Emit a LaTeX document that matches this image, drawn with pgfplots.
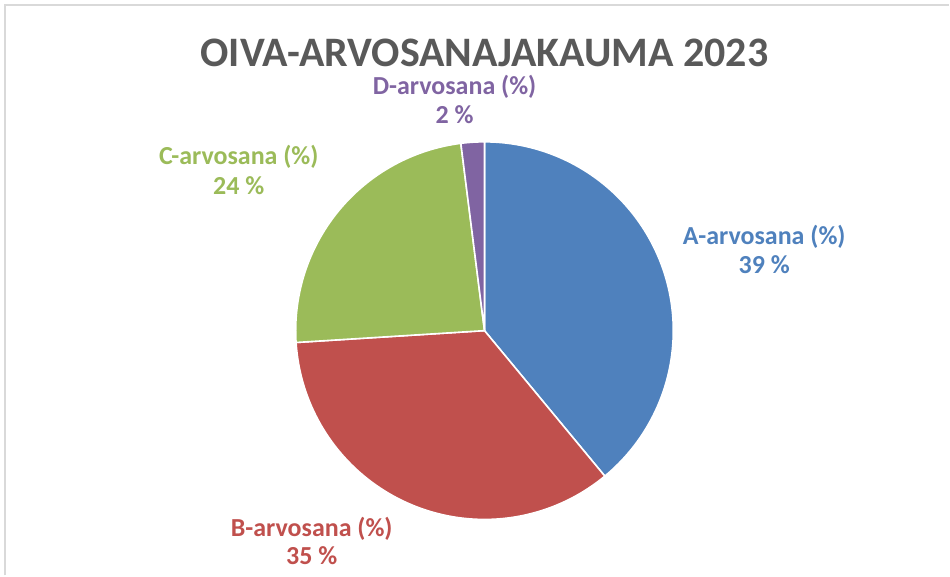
\documentclass[border=0pt]{standalone}
\usepackage{pgfplots}
\pgfplotsset{compat=1.18}
\usepackage{fontspec}
\setmainfont{Carlito}

\definecolor{cA}{HTML}{4F81BD}
\definecolor{cB}{HTML}{C0504D}
\definecolor{cC}{HTML}{9BBB59}
\definecolor{cD}{HTML}{8064A2}
\definecolor{ctitle}{HTML}{595959}
\definecolor{cframe}{HTML}{D9D9D9}

% shares (%), clockwise from 12 o'clock
\def\pA{39}
\def\pB{35}
\def\pC{24}
\def\pD{2}

\begin{document}
\begin{tikzpicture}[
  slice/.style={draw=white, line width=0.8pt, samples=120},
  lbl/.style={font=\bfseries\fontsize{13}{15}\selectfont, anchor=base},
]
\begin{axis}[
  hide axis, scale only axis, clip=false,
  width=475pt, height=288pt,
  xmin=0, xmax=950, ymin=0, ymax=576,
]
\path (axis cs:0,0) rectangle (axis cs:950,576);
\draw[cframe, line width=1pt] (axis cs:5,0) -- (axis cs:5,571) -- (axis cs:950,571);

\addplot[slice, fill=cA, domain={90-3.6*\pA}:90]
  ({485+189*cos(x)}, {245+189*sin(x)}) -- (axis cs:485,245) -- cycle;
\addplot[slice, fill=cB, domain={90-3.6*(\pA+\pB)}:{90-3.6*\pA}]
  ({485+189*cos(x)}, {245+189*sin(x)}) -- (axis cs:485,245) -- cycle;
\addplot[slice, fill=cC, domain={90-3.6*(\pA+\pB+\pC)}:{90-3.6*(\pA+\pB)}]
  ({485+189*cos(x)}, {245+189*sin(x)}) -- (axis cs:485,245) -- cycle;
\addplot[slice, fill=cD, domain={90-3.6*(\pA+\pB+\pC+\pD)}:{90-3.6*(\pA+\pB+\pC)}]
  ({485+189*cos(x)}, {245+189*sin(x)}) -- (axis cs:485,245) -- cycle;

\node[font=\bfseries\fontsize{21}{25}\selectfont, text=ctitle, anchor=base]
  at (axis cs:485,509) {OIVA-ARVOSANAJAKAUMA 2023};

\node[lbl, text=cA] at (axis cs:765,331) {A-arvosana (\%)};
\node[lbl, text=cA] at (axis cs:765,302) {\pA\ \%};
\node[lbl, text=cB] at (axis cs:312,39) {B-arvosana (\%)};
\node[lbl, text=cB] at (axis cs:312,11) {\pB\ \%};
\node[lbl, text=cC] at (axis cs:239,411) {C-arvosana (\%)};
\node[lbl, text=cC] at (axis cs:239,381) {\pC\ \%};
\node[lbl, text=cD] at (axis cs:455,481) {D-arvosana (\%)};
\node[lbl, text=cD] at (axis cs:455,452) {\pD\ \%};
\end{axis}
\end{tikzpicture}
\end{document}
